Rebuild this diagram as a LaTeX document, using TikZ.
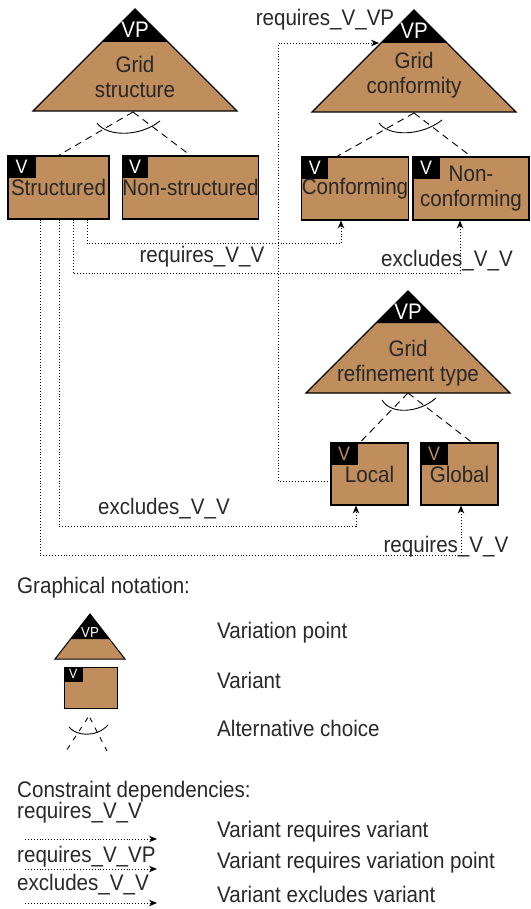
\documentclass[tikz,border=0pt]{standalone}
\usepackage{fontspec}
\setmainfont{Liberation Sans}[FakeStretch=0.915]
\usetikzlibrary{arrows.meta,calc}
\definecolor{vpbrown}{RGB}{192,141,93}
\definecolor{txtgray}{RGB}{40,40,40}

\begin{document}
\begin{tikzpicture}[x=1pt, y=-1pt, > = {Stealth[length=8pt, width=6.5pt]}, font=\fontsize{22.5}{24.5}\selectfont, text=txtgray]
            \tikzstyle{variant}=[rectangle, draw, line width=1.1pt, fill=vpbrown, inner sep=0pt, minimum height=63pt, align=center]
            \tikzstyle{vtag}=[rectangle, fill=black, text=white, inner sep=0pt, minimum width=28pt, minimum height=22pt, anchor=north west, font=\fontsize{19.5}{19.5}\selectfont]
            \tikzstyle{vplbl}=[text=white, inner sep=0pt]
            \tikzstyle{dep}=[->, dotted, line width=0.9pt]
            \tikzstyle{alt}=[dash pattern=on 7pt off 5pt, line width=0.9pt]
            \tikzstyle{lbl}=[inner sep=0pt, text height=15pt, text depth=4pt]

            \useasboundingbox (0,0) rectangle (530,909);

            % Pontos de variação
            \coordinate (gs) at (135,9);
            \filldraw[fill=vpbrown, line width=1.1pt] (gs) -- ++(-102,102) -- ++(204,0) -- cycle;
            \fill (gs) -- ++(-33,33) -- ++(66,0) -- cycle;
            \node[vplbl] (gs-vp) at ($(gs)+(0,21)$) {VP};
            \node[align=center] (gs-t) at ($(gs)+(0,68)$) {Grid\\structure};

            \coordinate (gc) at (414,10);
            \filldraw[fill=vpbrown, line width=1.1pt] (gc) -- ++(-102,102) -- ++(204,0) -- cycle;
            \fill (gc) -- ++(-33,33) -- ++(66,0) -- cycle;
            \node[vplbl] (gc-vp) at ($(gc)+(0,21)$) {VP};
            \node[align=center] (gc-t) at ($(gc)+(0,65)$) {Grid\\conformity};

            \coordinate (gr) at (408,291);
            \filldraw[fill=vpbrown, line width=1.1pt] (gr) -- ++(-102,102) -- ++(204,0) -- cycle;
            \fill (gr) -- ++(-32,32) -- ++(64,0) -- cycle;
            \node[vplbl] (gr-vp) at ($(gr)+(0,21)$) {VP};
            \node[align=center] (gr-t) at ($(gr)+(0,72)$) {Grid\\refinement type};

            % Variantes
            \node[variant, minimum width=101pt] (st) at (58.5,187.5) {Structured};
            \node[vtag] at (st.north west) {V};
            \node[variant, minimum width=135pt] (nst) at (190.5,187.5) {Non-structured};
            \node[vtag, minimum width=26pt] at (nst.north west) {V};
            \node[variant, minimum width=106pt] (cf) at (355,188.5) {Conforming};
            \node[vtag, minimum width=27pt] at (cf.north west) {V};
            \node[variant, minimum width=116pt] (ncf) at (471,188.5) {Non-\\conforming};
            \node[vtag, minimum width=27pt] at (ncf.north west) {V};
            \node[variant, minimum width=77pt, minimum height=62pt] (loc) at (369.5,474) {Local};
            \node[vtag, minimum width=27pt, text=vpbrown] at (loc.north west) {V};
            \node[variant, minimum width=77pt, minimum height=62pt] (glo) at (459.5,474) {Global};
            \node[vtag, minimum width=27pt, text=vpbrown] at (glo.north west) {V};

            % Escolha alternativa
            \coordinate (gs-b) at ($(gs)+(-2,103)$);
            \draw[alt] (gs-b) -- (st.north);
            \draw[alt] (gs-b) -- (nst.north);
            \draw[line width=0.9pt] ($(gs-b)+(-36,11)$) .. controls +(10,14) and +(-20,16) .. ($(gs-b)+(27,9)$);

            \coordinate (gc-b) at ($(gc)+(0,103)$);
            \draw[alt] (gc-b) -- (337,0 |- cf.north);
            \draw[alt] (gc-b) -- (ncf.north);
            \draw[line width=0.9pt] ($(gc-b)+(-35,10)$) .. controls +(10,14) and +(-20,16) .. ($(gc-b)+(28,7)$);

            \coordinate (gr-b) at ($(gr)+(0,102)$);
            \draw[alt] (gr-b) -- (360,0 |- loc.north);
            \draw[alt] (gr-b) -- (472,0 |- glo.north);
            \draw[line width=0.9pt] ($(gr-b)+(-26,7)$) .. controls +(9,15) and +(-17,15) .. ($(gr-b)+(28,5)$);

            % Dependências
            \draw[dep] (87,0 |- st.south) -- ++(0,24) -| (341,0 |- cf.south);
            \draw[dep] (73,0 |- st.south) -- ++(0,54) -| (460,0 |- ncf.south);
            \draw[dep] (59,0 |- st.south) -- ++(0,307) -| (356,0 |- loc.south);
            \draw[dep] (40,0 |- st.south) -- ++(0,336) -| (461,0 |- glo.south);
            \coordinate (gc-in) at ($(gc)+(-35,33)$);
            \draw[dep] (loc.west |- 0,481) -- ++(-52,0) |- (gc-in);

            \node[lbl] (r1) at (202,257) {requires\_V\_V};
            \node[lbl] (e1) at (447,261) {excludes\_V\_V};
            \node[lbl] (e2) at (164,509) {excludes\_V\_V};
            \node[lbl] (r2) at (446,547) {requires\_V\_V};
            \node[lbl] (rvp) at (325,20) {requires\_V\_VP};

            % Legenda
            \node[lbl, anchor=west] (gn) at (17,588) {Graphical notation:};
            \coordinate (lvp) at (90,614);
            \filldraw[fill=vpbrown, line width=1pt] (lvp) -- ++(-35,45) -- ++(70,0) -- cycle;
            \fill (lvp) -- ++(-19.4,25) -- ++(38.8,0) -- cycle;
            \node[vplbl, font=\fontsize{14.5}{14.5}\selectfont] (lvp-t) at ($(lvp)+(0,19)$) {VP};
            \node[lbl, anchor=west] (vpt) at (217,633) {Variation point};

            \node[variant, minimum width=53pt, minimum height=41pt, line width=1pt] (lv) at (90.5,687.5) {};
            \node[vtag, minimum width=19pt, minimum height=15pt, font=\fontsize{13.5}{13.5}\selectfont] at (lv.north west) {V};
            \node[lbl, anchor=west] (vt) at (217,683) {Variant};

            \coordinate (la) at (89,716);
            \coordinate (la1) at (66,751);
            \coordinate (la2) at (107,751);
            \draw[line width=0.9pt, dash pattern=on 5pt off 6pt, dash phase=-2pt] (la) -- (la1);
            \draw[line width=0.9pt, dash pattern=on 5pt off 6pt, dash phase=-2pt] (la) -- (la2);
            \draw[line width=0.9pt] (69,727) .. controls (76,736) and (96,738) .. (108,725);
            \node[lbl, anchor=west] (at) at (217,731) {Alternative choice};

            \node[lbl, anchor=west] (cd) at (17,792) {Constraint dependencies:};
            \node[lbl, anchor=west] (lr1) at (17,813) {requires\_V\_V};
            \node[lbl, anchor=west] (lrvp) at (17,857) {requires\_V\_VP};
            \node[lbl, anchor=west] (le1) at (17,885) {excludes\_V\_V};
            \coordinate (d1a) at (25,839); \coordinate (d1b) at (157,839);
            \coordinate (d2a) at (25,869); \coordinate (d2b) at (157,869);
            \coordinate (d3a) at (25,903); \coordinate (d3b) at (157,903);
            \draw[dep] (d1a) -- (d1b);
            \draw[dep] (d2a) -- (d2b);
            \draw[dep] (d3a) -- (d3b);
            \node[lbl, anchor=west] (t1) at (217,832) {Variant requires variant};
            \node[lbl, anchor=west] (t2) at (217,863) {Variant requires variation point};
            \node[lbl, anchor=west] (t3) at (217,897) {Variant excludes variant};
      \end{tikzpicture}
\end{document}
